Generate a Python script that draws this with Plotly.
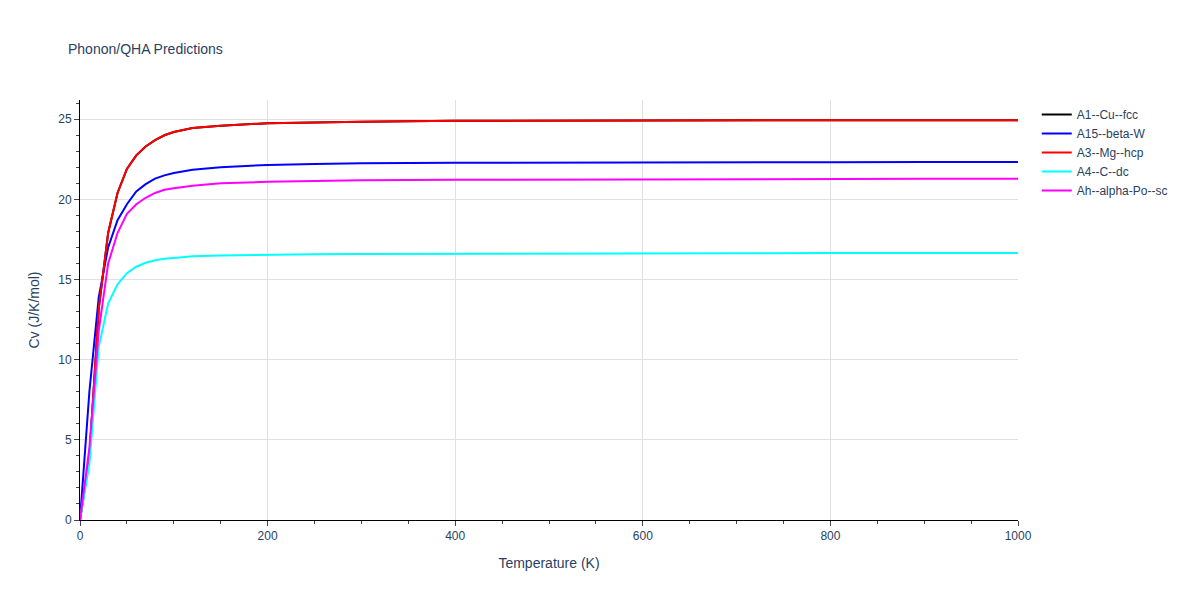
import plotly.graph_objects as go

temperature = [0, 10, 20, 30, 40, 50, 60, 70, 80, 90, 100, 120, 150, 200, 250, 300, 400, 500, 600, 700, 800, 900, 1000]
cv_cu = [0, 3.9, 13.2, 17.9, 20.4, 21.9, 22.75, 23.3, 23.7, 24.0, 24.2, 24.45, 24.6, 24.75, 24.8, 24.85, 24.9, 24.92, 24.93, 24.93, 24.94, 24.94, 24.94]
cv_beta_w = [0, 8.0, 13.9, 17.0, 18.7, 19.7, 20.5, 20.95, 21.3, 21.5, 21.65, 21.85, 22.0, 22.15, 22.2, 22.25, 22.28, 22.3, 22.31, 22.32, 22.32, 22.33, 22.33]
cv_mg = [0, 3.9, 13.2, 17.9, 20.4, 21.9, 22.75, 23.3, 23.7, 24.0, 24.2, 24.45, 24.6, 24.75, 24.8, 24.85, 24.9, 24.92, 24.93, 24.93, 24.94, 24.94, 24.94]
cv_c = [0, 3.5, 10.8, 13.5, 14.7, 15.4, 15.8, 16.05, 16.2, 16.3, 16.35, 16.45, 16.5, 16.55, 16.58, 16.6, 16.62, 16.63, 16.64, 16.64, 16.65, 16.65, 16.65]
cv_po = [0, 4.5, 11.8, 16.0, 17.9, 19.1, 19.7, 20.1, 20.4, 20.6, 20.7, 20.85, 21.0, 21.1, 21.15, 21.2, 21.22, 21.24, 21.25, 21.27, 21.28, 21.28, 21.29]

series = [("A1--Cu--fcc", cv_cu, "black"),
          ("A15--beta-W", cv_beta_w, "blue"),
          ("A3--Mg--hcp", cv_mg, "red"),
          ("A4--C--dc", cv_c, "cyan"),
          ("Ah--alpha-Po--sc", cv_po, "magenta")]

fig = go.Figure()
for name, values, color in series:
    fig.add_trace(go.Scatter(x=temperature, y=values, mode="lines", name=name,
                             line=dict(color=color, width=2)))

axis_style = dict(showline=True, linecolor="black", linewidth=1, ticks="outside",
                  showgrid=True, gridcolor="#e0e0e0", zeroline=False,
                  minor=dict(ticks="outside", ticklen=3, showgrid=False))
fig.update_layout(template="plotly_white", width=1200, height=600,
                  font=dict(family="Arial, Liberation Sans"),
                  title=dict(text="Phonon/QHA Predictions", font=dict(size=14)),
                  margin=dict(l=72, r=190, t=92, b=88))
fig.update_xaxes(title_text="Temperature (K)", range=[0, 1000], **axis_style)
fig.update_yaxes(title_text="Cv (J/K/mol)", range=[0, 26.2], **axis_style)
fig.write_html("out.html")
